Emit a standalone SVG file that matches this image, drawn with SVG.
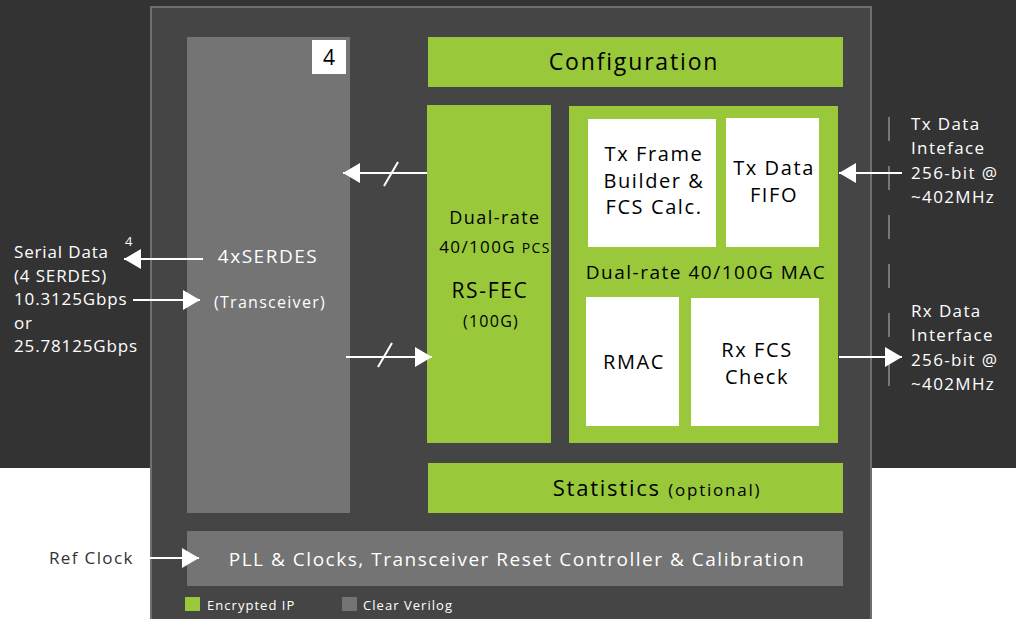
<svg xmlns="http://www.w3.org/2000/svg" width="1016" height="619" viewBox="0 0 1016 619">
<defs>
<style>
text{font-family:"Open Sans","DejaVu Sans",sans-serif;font-weight:500;letter-spacing:0.08em;}
.w{fill:#ffffff;}
.b{fill:#000000;}
.d{fill:#333333;}
.c{text-anchor:middle;}
.grn{fill:#99c93b;}
.gry{fill:#737473;}
.wb{fill:#ffffff;}
.ln{stroke:#ffffff;stroke-width:2;fill:none;}
#serial-label text{letter-spacing:0.05em;}
</style>
<marker id="ahb" viewBox="0 0 10 10" refX="10" refY="5" markerWidth="17" markerHeight="20" markerUnits="userSpaceOnUse" orient="auto" preserveAspectRatio="none">
<path d="M0,0 L10,5 L0,10 Z" fill="#ffffff"/>
</marker>
</defs>
<rect x="0" y="0" width="1016" height="619" fill="#ffffff"/>
<rect x="0" y="0" width="1016" height="468" fill="#333333"/>
<g id="main-frame">
<rect x="151" y="7" width="720" height="616" fill="#444544" stroke="#6e6f6e" stroke-width="2"/>
</g>
<g id="serdes">
<rect class="gry" x="187" y="37" width="163" height="476"/>
<rect class="wb" x="312" y="40" width="34" height="34"/>
<text class="b c" x="329" y="65" font-size="21" font-weight="600" style="letter-spacing:0">4</text>
<text class="w c" x="268" y="263" font-size="19">4xSERDES</text>
<text class="w c" x="270" y="308" font-size="16">(Transceiver)</text>
</g>
<g id="configuration">
<rect class="grn" x="428" y="37" width="415" height="50"/>
<text class="b c" x="634" y="70" font-size="23">Configuration</text>
</g>
<g id="pcs">
<rect class="grn" x="427" y="105" width="124" height="338"/>
<text class="b c" x="495" y="224" font-size="18">Dual-rate</text>
<text class="b c" x="495" y="253" font-size="17">40/100G <tspan font-size="14">PCS</tspan></text>
<text class="b c" x="490" y="298" font-size="21">RS-FEC</text>
<text class="b c" x="491" y="327" font-size="16">(100G)</text>
</g>
<g id="mac">
<rect class="grn" x="569" y="106" width="269" height="337"/>
<text class="b c" x="706" y="279" font-size="19">Dual-rate 40/100G MAC</text>
</g>
<g id="tx-frame">
<rect class="wb" x="588" y="119" width="128" height="128"/>
<text class="b c" x="654" y="161" font-size="20">Tx Frame</text>
<text class="b c" x="654" y="188" font-size="20">Builder &amp;</text>
<text class="b c" x="654" y="214" font-size="20">FCS Calc.</text>
</g>
<g id="tx-fifo">
<rect class="wb" x="726" y="118" width="93" height="129"/>
<text class="b c" x="774" y="175" font-size="20">Tx Data</text>
<text class="b c" x="774" y="202" font-size="20">FIFO</text>
</g>
<g id="rmac">
<rect class="wb" x="586" y="297" width="93" height="129"/>
<text class="b c" x="634" y="369" font-size="20">RMAC</text>
</g>
<g id="rx-fcs">
<rect class="wb" x="691" y="298" width="128" height="128"/>
<text class="b c" x="757" y="357" font-size="20">Rx FCS</text>
<text class="b c" x="757" y="384" font-size="20">Check</text>
</g>
<g id="statistics">
<rect class="grn" x="428" y="463" width="415" height="50"/>
<text class="b c" x="657" y="496" font-size="22">Statistics <tspan font-size="17">(optional)</tspan></text>
</g>
<g id="pll">
<rect class="gry" x="187" y="531" width="656" height="55"/>
<text class="w c" x="517" y="566" font-size="19">PLL &amp; Clocks, Transceiver Reset Controller &amp; Calibration</text>
</g>
<g id="legend">
<rect class="grn" x="185" y="597" width="15" height="14"/>
<text class="w" x="207" y="610" font-size="13">Encrypted IP</text>
<rect class="gry" x="342" y="597" width="15" height="14"/>
<text class="w" x="363" y="610" font-size="13">Clear Verilog</text>
</g>
<g id="serial-label">
<text class="w" x="14" y="258" font-size="17">Serial Data</text>
<text class="w" x="125" y="246" font-size="13">4</text>
<text class="w" x="14" y="282" font-size="17">(4 SERDES)</text>
<text class="w" x="14" y="305" font-size="17">10.3125Gbps</text>
<text class="w" x="14" y="329" font-size="17">or</text>
<text class="w" x="14" y="352" font-size="17">25.78125Gbps</text>
</g>
<g id="tx-label">
<text class="w" x="911" y="130" font-size="17">Tx Data</text>
<text class="w" x="911" y="154" font-size="17">Inteface</text>
<text class="w" x="911" y="179" font-size="17">256-bit @</text>
<text class="w" x="911" y="203" font-size="17">~402MHz</text>
</g>
<g id="rx-label">
<text class="w" x="911" y="317" font-size="17">Rx Data</text>
<text class="w" x="911" y="341" font-size="17">Interface</text>
<text class="w" x="911" y="366" font-size="17">256-bit @</text>
<text class="w" x="911" y="390" font-size="17">~402MHz</text>
</g>
<g id="ref-clock-label">
<text class="d" x="49" y="564" font-size="17">Ref Clock</text>
</g>
<g id="connectors">
<line x1="889" y1="117" x2="889" y2="392" stroke="#777777" stroke-width="2" stroke-dasharray="24 25"/>
<line class="ln" x1="427" y1="173" x2="343" y2="173" marker-end="url(#ahb)"/>
<line class="ln" x1="384" y1="186" x2="398" y2="162"/>
<line class="ln" x1="346" y1="357" x2="432" y2="357" marker-end="url(#ahb)"/>
<line class="ln" x1="378" y1="367" x2="392" y2="343"/>
<line class="ln" x1="203" y1="259" x2="124" y2="259" marker-end="url(#ahb)"/>
<line class="ln" x1="133" y1="300" x2="200" y2="300" marker-end="url(#ahb)"/>
<line class="ln" x1="902" y1="173" x2="839" y2="173" marker-end="url(#ahb)"/>
<line class="ln" x1="839" y1="357" x2="902" y2="357" marker-end="url(#ahb)"/>
<line class="ln" x1="138" y1="558" x2="199" y2="558" marker-end="url(#ahb)"/>
</g>
</svg>
